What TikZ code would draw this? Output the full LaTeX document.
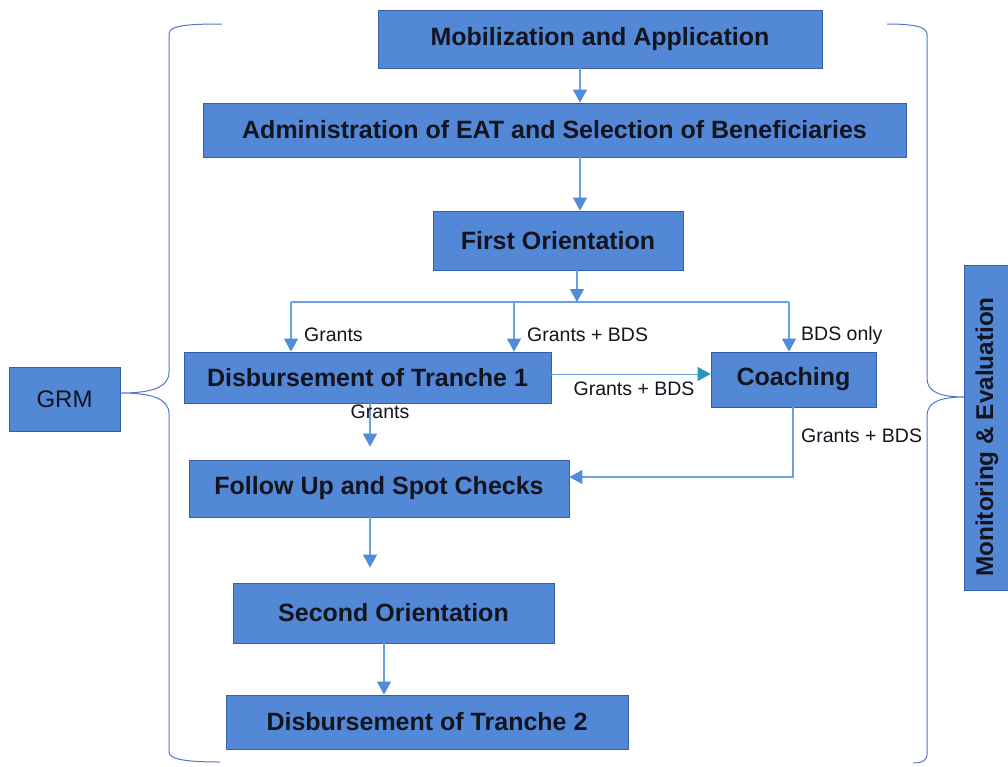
\documentclass[tikz,border=0pt]{standalone}
\usepackage{fontspec}
\setmainfont{Liberation Sans}
\usetikzlibrary{arrows.meta,calc}
\definecolor{boxfill}{RGB}{82,136,214}
\definecolor{boxline}{RGB}{55,95,165}
\definecolor{conn}{RGB}{105,160,225}
\definecolor{head}{RGB}{80,140,215}
\definecolor{tealhead}{RGB}{40,150,195}
\definecolor{bracec}{RGB}{80,120,200}
\definecolor{txt}{RGB}{20,20,30}
\tikzset{
  box/.style={draw=boxline, line width=0.8pt, fill=boxfill, text=txt, inner sep=0pt, align=center,
    font=\fontsize{25}{28}\selectfont\bfseries},
  lbl/.style={font=\fontsize{19.5}{22}\selectfont, text=txt, inner sep=0pt},
  ln/.style={draw=conn, line width=1.3pt},
  arr/.style={ln, -{Triangle[width=14pt,length=13pt,fill=head,color=head]}},
  tarr/.style={draw=conn, line width=1pt, -{Triangle[width=14pt,length=13pt,fill=tealhead,color=tealhead]}},
  bracepath/.style={draw=bracec, line width=1pt},
}
\begin{document}
\begin{tikzpicture}[x=1pt,y=-1pt]
\useasboundingbox (0,0) rectangle (1008,766);
\fill[white] (0,0) rectangle (1008,766);

% braces
\draw[bracepath] (222,24) .. controls (190,24) and (169,25) .. (169,34) -- (169,372)
  .. controls (169,388) and (150,393) .. (121,393)
  .. controls (150,393) and (169,398) .. (169,414) -- (169,752)
  .. controls (169,760) and (190,762) .. (220,762);
\draw[bracepath] (887,24) .. controls (910,24) and (927,26) .. (927,34) -- (927,378)
  .. controls (927,392) and (940,397) .. (965,397)
  .. controls (940,397) and (927,402) .. (927,416) -- (927,755)
  .. controls (927,760) and (922,763) .. (913,763);

% boxes
\node[box, minimum width=444pt, minimum height=58pt] (mob) at (600,39) {Mobilization and Application};
\node[box, minimum width=703pt, minimum height=54pt] (adm) at (554.5,130) {Administration of EAT and Selection of Beneficiaries};
\node[box, minimum width=250pt, minimum height=59pt] (fo) at (558,240.5) {First Orientation};
\node[box, minimum width=367pt, minimum height=51pt] (t1) at (367.5,377.5) {Disbursement of Tranche 1};
\node[box, minimum width=165pt, minimum height=55pt] (coach) at (793.5,379.5) {Coaching};
\node[box, minimum width=380pt, minimum height=57pt] (fu) at (379,488.5) {Follow Up and Spot Checks};
\node[box, minimum width=321pt, minimum height=60pt] (so) at (393.5,613) {Second Orientation};
\node[box, minimum width=402pt, minimum height=54pt] (t2) at (427,722) {Disbursement of Tranche 2};
\node[box, font=\fontsize{24}{28}\selectfont, minimum width=111pt, minimum height=64pt] (grm) at (64.5,399) {GRM};
\node[box, minimum width=48pt, minimum height=325pt] (me) at (988,427.5) {};
\node[font=\fontsize{24.3}{28}\selectfont\bfseries, text=txt, rotate=90, inner sep=0pt] (metext) at (987,437) {Monitoring \& Evaluation};

% connectors
\coordinate (xa) at (580,0);
\draw[arr] (mob.south -| xa) -- (adm.north -| xa);
\draw[arr] (adm.south -| xa) -- (fo.north -| xa);
\coordinate (jm) at (577,302);
\coordinate (jl) at (291,302);
\coordinate (jc) at (514,302);
\coordinate (jr) at (789,302);
\draw[ln] (jl) -- (jr);
\draw[arr] (fo.south -| jm) -- (jm);
\draw[arr] (jl) -- (t1.north -| jl);
\draw[arr] (jc) -- (t1.north -| jc);
\draw[arr] (jr) -- (coach.north -| jr);
\coordinate (ya) at (0,374);
\draw[tarr] (t1.east |- ya) -- (coach.west |- ya);
\coordinate (xb) at (370,0);
\draw[arr] (t1.south -| xb) -- ($(fu.north -| xb)+(0,-13)$);
\coordinate (xc) at (793,0);
\draw[arr] (coach.south -| xc) |- ($(fu.east)+(0,-11.5)$);
\draw[arr] (fu.south -| xb) -- ($(so.north -| xb)+(0,-15)$);
\coordinate (xd) at (384,0);
\draw[arr] (so.south -| xd) -- (t2.north -| xd);

% labels
\node[lbl, anchor=west] (l1) at (304,335) {Grants};
\node[lbl, anchor=west] (l2) at (527,335) {Grants + BDS};
\node[lbl, anchor=west] (l3) at (801,335) {BDS only};
\node[lbl] (l4) at (634,389) {Grants + BDS};
\node[lbl] (l5) at (380,412) {Grants};
\node[lbl, anchor=west] (l6) at (801,436) {Grants + BDS};
\end{tikzpicture}
\end{document}
